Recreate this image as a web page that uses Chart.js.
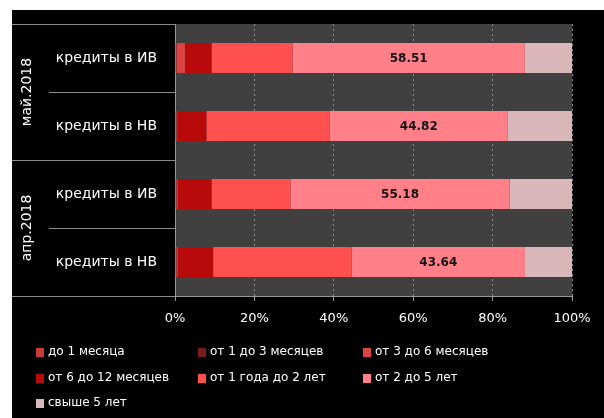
<!DOCTYPE html>
<html>
<head>
<meta charset="utf-8">
<script src="https://cdn.jsdelivr.net/npm/chart.js@4.4.0/dist/chart.umd.min.js"></script>
<style>
  html, body { margin: 0; padding: 0; background: #fff; }
  #wrap { position: absolute; left: 12px; top: 10px; width: 592px; height: 408px; background: #000; }
</style>
</head>
<body>
<div id="wrap"><canvas id="c"></canvas></div>
<script>
// categories (inner labels) and their groups
var categories = ['кредиты в ИВ', 'кредиты в НВ', 'кредиты в ИВ', 'кредиты в НВ'];
var groups = ['май.2018', 'апр.2018'];
var groupSize = 2;

var seriesNames = ['до 1 месяца', 'от 1 до 3 месяцев', 'от 3 до 6 месяцев', 'от 6 до 12 месяцев',
  'от 1 года до 2 лет', 'от 2 до 5 лет', 'свыше 5 лет'];

// shares, %
var upTo1m   = [0.4, 0.3, 0.4, 0.4];
var m1to3    = [0.1, 0.1, 0.1, 0.1];
var m3to6    = [2.0, 0.2, 0.2, 0.2];
var m6to12   = [6.7, 7.3, 8.5, 8.9];
var y1to2    = [20.4, 31.1, 19.9, 34.9];
var y2to5    = [58.51, 44.82, 55.18, 43.64];
var over5y   = [11.89, 16.18, 15.72, 11.86];

var xTicks = [0, 20, 40, 60, 80, 100];

var colors = ['#c23a3a', '#7a1c1c', '#dc4444', '#b80a0a', '#ff5050', '#ff8088', '#d9b6ba'];
var series = [upTo1m, m1to3, m3to6, m6to12, y1to2, y2to5, over5y];
var labelled = 5; // only "от 2 до 5 лет" carries value labels

var FONT = "'DejaVu Sans'";

function shade(hex, k) {
  var n = parseInt(hex.slice(1), 16);
  var r = (n >> 16) & 255, g = (n >> 8) & 255, b = n & 255;
  function f(v) { return Math.max(0, Math.min(255, Math.round(k > 0 ? v + (255 - v) * k : v * (1 + k)))); }
  return 'rgb(' + f(r) + ',' + f(g) + ',' + f(b) + ')';
}

function bevel(base) {
  return function (ctx) {
    var el = ctx.element;
    if (!el || el.y === undefined) return base;
    var h = el.height || 30;
    var top = el.y - h / 2, bot = el.y + h / 2;
    var g = ctx.chart.ctx.createLinearGradient(0, top, 0, bot);
    g.addColorStop(0, shade(base, 0.35));
    g.addColorStop(0.18, shade(base, 0.05));
    g.addColorStop(0.8, base);
    g.addColorStop(1, shade(base, -0.25));
    return g;
  };
}

var datasets = series.map(function (d, i) {
  return {
    label: seriesNames[i],
    data: d,
    backgroundColor: bevel(colors[i]),
    legendColor: colors[i],
    borderWidth: 0,
    categoryPercentage: 1,
    barPercentage: 0.44
  };
});

var plotBg = {
  id: 'plotBg',
  beforeDraw: function (chart) {
    var a = chart.chartArea, ctx = chart.ctx;
    ctx.save();
    ctx.fillStyle = '#404040';
    ctx.fillRect(a.left, a.top, a.right - a.left, a.bottom - a.top);
    ctx.restore();
  }
};

var valueLabels = {
  id: 'valueLabels',
  afterDatasetsDraw: function (chart) {
    var ctx = chart.ctx;
    var meta = chart.getDatasetMeta(labelled);
    ctx.save();
    ctx.font = 'bold 12px ' + FONT;
    ctx.fillStyle = '#141414';
    ctx.textAlign = 'center';
    ctx.textBaseline = 'middle';
    meta.data.forEach(function (bar, i) {
      var p = bar.getCenterPoint();
      ctx.fillText(series[labelled][i].toFixed(2), p.x, p.y + 1);
    });
    ctx.restore();
  }
};

var groupAxis = {
  id: 'groupAxis',
  afterDraw: function (chart) {
    var ctx = chart.ctx, y = chart.scales.y, a = chart.chartArea;
    var n = categories.length;
    var half = (y.getPixelForValue(1) - y.getPixelForValue(0)) / 2;
    var bounds = [];
    for (var i = 0; i <= n; i++) {
      bounds.push(i < n ? y.getPixelForValue(i) - half : y.getPixelForValue(n - 1) + half);
    }
    ctx.save();
    ctx.strokeStyle = '#8a8a8a';
    ctx.lineWidth = 1;
    bounds.forEach(function (b, i) {
      var x0 = (i % groupSize === 0) ? 0 : 37;
      var yy = Math.round(b) + 0.5;
      ctx.beginPath();
      ctx.moveTo(x0, yy);
      ctx.lineTo(a.left, yy);
      ctx.stroke();
    });
    ctx.fillStyle = '#fff';
    ctx.font = '14px ' + FONT;
    ctx.textAlign = 'center';
    ctx.textBaseline = 'middle';
    groups.forEach(function (g, k) {
      var cy = (bounds[k * groupSize] + bounds[(k + 1) * groupSize]) / 2;
      ctx.save();
      ctx.translate(15, cy);
      ctx.rotate(-Math.PI / 2);
      ctx.fillText(g, 0, 0);
      ctx.restore();
    });
    ctx.restore();
  }
};

var gridLegend = {
  id: 'gridLegend',
  afterDraw: function (chart) {
    var ctx = chart.ctx;
    var cols = [24, 186, 351];
    var rows = [342, 368, 393];
    ctx.save();
    ctx.font = '12px ' + FONT;
    ctx.textBaseline = 'middle';
    ctx.textAlign = 'left';
    chart.data.datasets.forEach(function (ds, i) {
      var x = cols[i % 3], yy = rows[Math.floor(i / 3)];
      ctx.fillStyle = ds.legendColor;
      ctx.fillRect(x, yy - 4, 8, 9);
      ctx.fillStyle = '#fff';
      ctx.fillText(ds.label, x + 12, yy);
    });
    ctx.restore();
  }
};

new Chart(document.getElementById('c'), {
  type: 'bar',
  data: { labels: categories, datasets: datasets },
  options: {
    indexAxis: 'y',
    responsive: true,
    maintainAspectRatio: false,
    animation: false,
    layout: { padding: { top: 14, right: 32, left: 0, bottom: 92 } },
    plugins: { legend: { display: false }, tooltip: { enabled: false } },
    scales: {
      x: {
        stacked: true,
        min: 0,
        max: 100,
        afterBuildTicks: function (s) { s.ticks = xTicks.map(function (v) { return { value: v }; }); },
        afterFit: function (s) { s.height = 30; },
        ticks: {
          color: '#fff',
          font: { family: FONT, size: 13 },
          padding: 10,
          maxRotation: 0,
          callback: function (v) { return v + '%'; }
        },
        grid: { color: '#8a8a8a', tickColor: '#9a9a9a', tickLength: 5, tickBorderDash: [] },
        border: { color: '#9a9a9a', dash: [2, 3] }
      },
      y: {
        stacked: true,
        afterFit: function (s) { s.width = 163; s.paddingTop = 0; s.paddingBottom = 0; },
        ticks: { color: '#fff', font: { family: FONT, size: 14 }, padding: 10 },
        grid: { display: false },
        border: { color: '#9a9a9a' }
      }
    }
  },
  plugins: [plotBg, valueLabels, groupAxis, gridLegend]
});
</script>
</body>
</html>
